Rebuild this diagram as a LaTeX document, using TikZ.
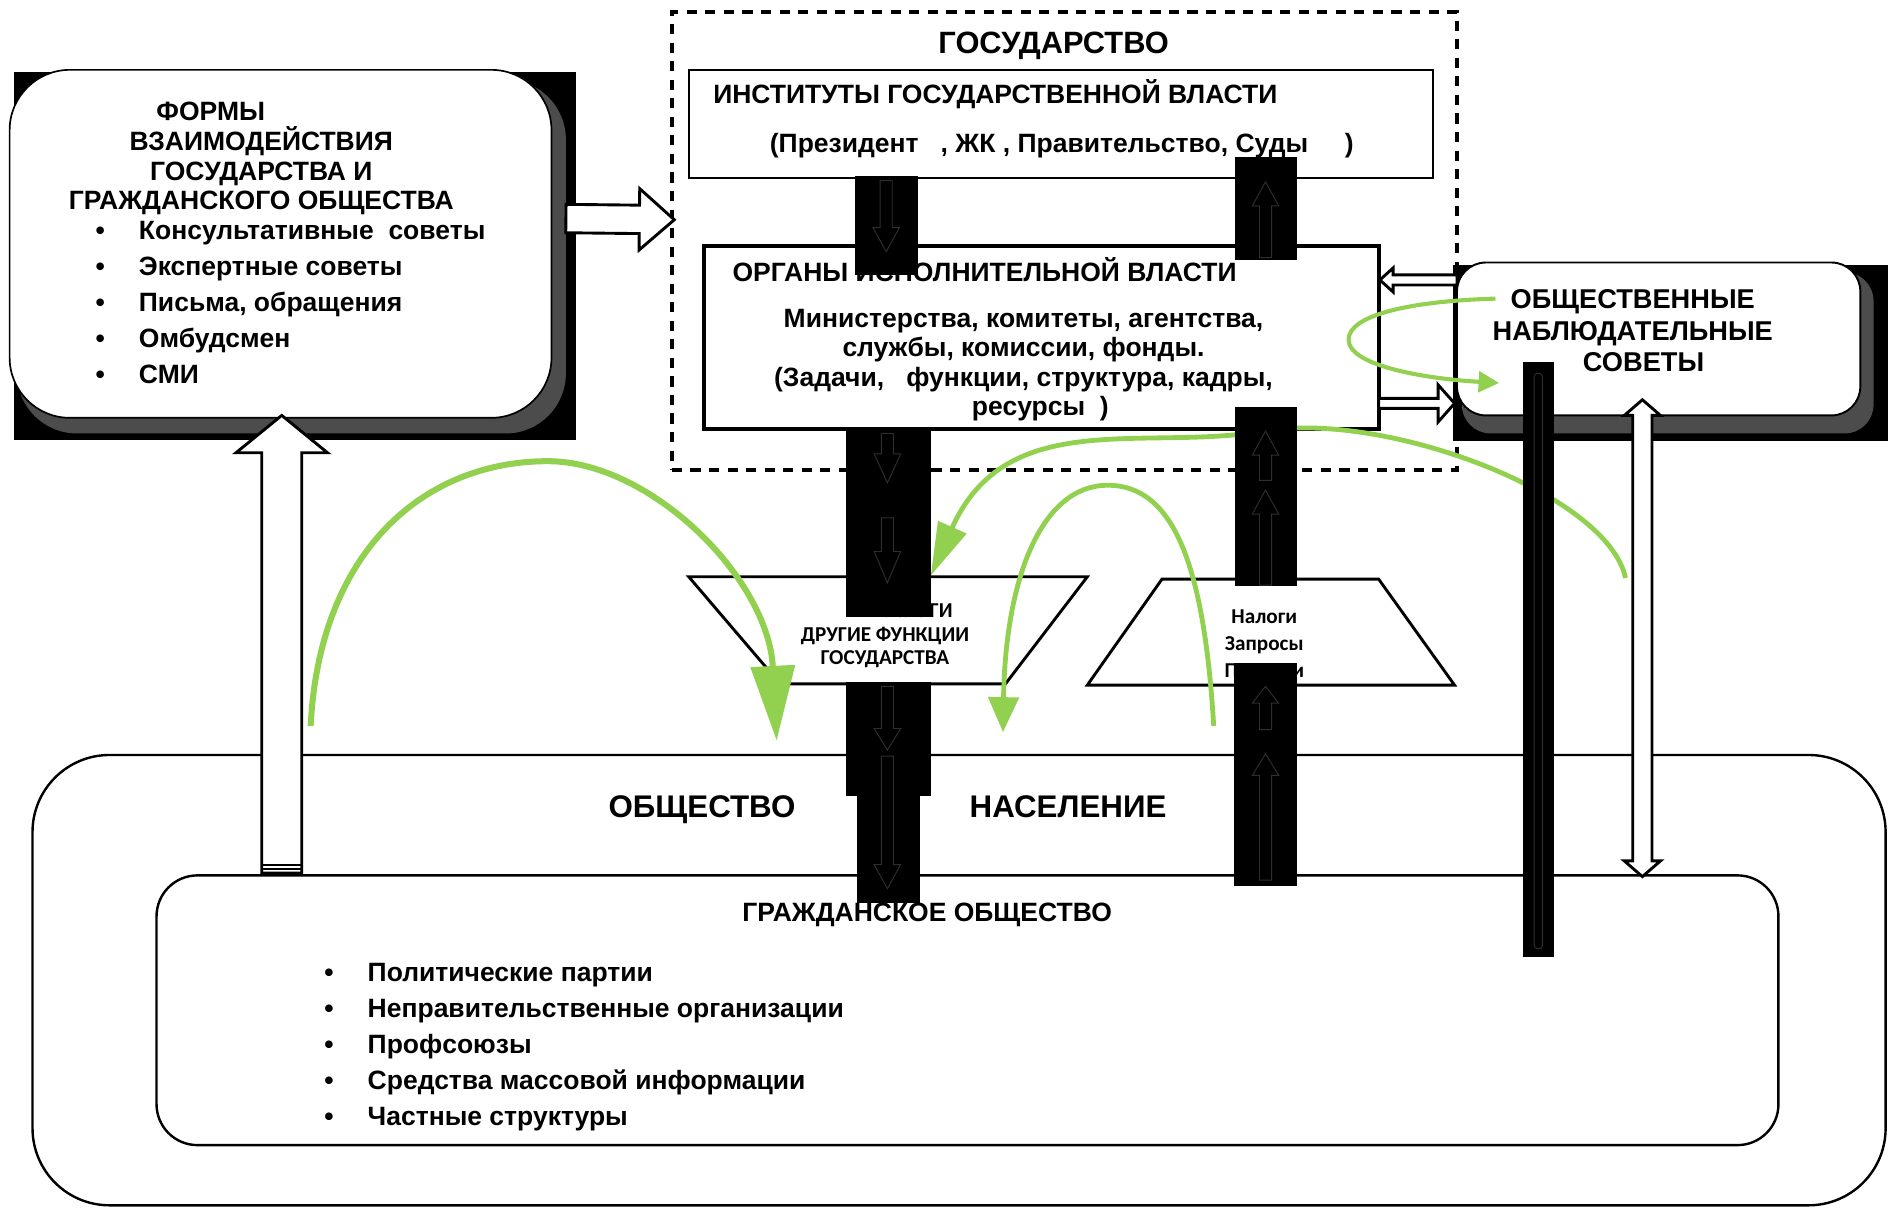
\documentclass[tikz,border=0pt]{standalone}
\usepackage{fontspec}
\setmainfont{Liberation Sans}
\newfontfamily\calibfont{Carlito}
\usetikzlibrary{calc,fit,arrows.meta}

\definecolor{leafgreen}{RGB}{146,208,80}
\newcommand*{\pkt}{\makebox[18pt][l]{\textbullet}}
\newcommand*{\fsz}[2]{\fontsize{#1}{#2}\selectfont\lineskiplimit=-20pt\relax}

% hollow block arrow: [style]{from}{to}{half shaft}{half head}{head length}
\newcommand{\blockarrow}[6][]{%
  \coordinate (ba) at ($(#3)!#6!(#2)$);
  \draw[hollow,#1] ($(#2)!#4!90:(#3)$) -- ($(ba)!#4!-90:(#2)$)
    -- ($(ba)!#5!-90:(#2)$) -- (#3) -- ($(ba)!#5!90:(#2)$)
    -- ($(ba)!#4!90:(#2)$) -- ($(#2)!#4!-90:(#3)$) -- cycle;
}
% same, with a head at both ends
\newcommand{\blockdarrow}[6][]{%
  \coordinate (bda) at ($(#2)!#6!(#3)$);
  \coordinate (bdb) at ($(#3)!#6!(#2)$);
  \draw[hollow,#1] (#2) -- ($(bda)!#5!90:(#3)$) -- ($(bda)!#4!90:(#3)$)
    -- ($(bdb)!#4!-90:(#2)$) -- ($(bdb)!#5!-90:(#2)$) -- (#3)
    -- ($(bdb)!#5!90:(#2)$) -- ($(bdb)!#4!90:(#2)$)
    -- ($(bda)!#4!-90:(#3)$) -- ($(bda)!#5!-90:(#3)$) -- cycle;
}

\begin{document}
\begin{tikzpicture}[
    x=0.5pt,y=-0.5pt,
    txt/.style={inner sep=0pt,font=\bfseries\fsz{11}{14.9}},
    bigtxt/.style={inner sep=0pt,font=\bfseries\fsz{12.8}{15}},
    smalltxt/.style={inner sep=0pt,align=center,font=\calibfont\bfseries\fsz{8.8}{9.7}},
    plainbox/.style={draw,fill=white,inner sep=0pt,line width=0.8pt},
    roundbox/.style={plainbox,rounded corners=#1},
    shadowbox/.style={fill=black!70,rounded corners=#1},
    trap/.style={draw,line width=1.2pt,line join=miter},
    hollow/.style={draw,fill=white,line width=1.2pt,line join=miter},
    faint/.style={draw=black!82,fill=none,line width=0.4pt},
    greenline/.style={draw=leafgreen,line width=#1},
  ]
  \useasboundingbox (0,0) rectangle (1568,1003);

  % society
  \node[roundbox=32pt,line width=1pt,fit={(27,627) (1566,1001)}] (societybox) {};
  \node[roundbox=17pt,line width=1pt,fit={(130,727) (1477,951)}] (civilbox) {};
  \node[bigtxt,font=\bfseries\fsz{13}{15},anchor=base] (society) at (583,679) {ОБЩЕСТВО};
  \node[bigtxt,font=\bfseries\fsz{13}{15},anchor=base] (population) at (887,679) {НАСЕЛЕНИЕ};
  \node[txt,anchor=base] (civiltitle) at (770,765) {ГРАЖДАНСКОЕ ОБЩЕСТВО};
  \node[txt,align=left,anchor=north west] (civillist) at (269,794) {%
    \strut\pkt Политические партии\\
    \pkt Неправительственные организации\\
    \pkt Профсоюзы\\
    \pkt Средства массовой информации\\
    \pkt Частные структуры};

  % forms of interaction
  \fill (12,60) rectangle (478,365);
  \fill[shadowbox=25pt] (14,66) rectangle (470,360);
  \node[roundbox=25pt,line width=0.7pt,fit={(8,58) (458,347)}] (forms) {};
  \node[txt,align=center,anchor=north,font=\bfseries\fsz{11}{12.3}] (formstitle) at (217,82.8) {%
    \strut ФОРМЫ\hspace*{42pt}\\ВЗАИМОДЕЙСТВИЯ\\ГОСУДАРСТВА И\\ГРАЖДАНСКОГО ОБЩЕСТВА};
  \node[txt,align=left,anchor=north west] (formslist) at (79,178) {%
    \strut\pkt Консультативные\ \ советы\\
    \pkt Экспертные советы\\
    \pkt Письма, обращения\\
    \pkt Омбудсмен\\
    \pkt СМИ};

  % state
  \node[draw,dashed,line width=1.6pt,dash pattern=on 4.2pt off 3.5pt,inner sep=0pt,
    fit={(558,10) (1210,390)}] (state) {};
  \node[bigtxt,anchor=base] (statetitle) at (875,44.5) {ГОСУДАРСТВО};
  \node[plainbox,fit={(572,58) (1190,148)}] (institutes) {};
  \node[txt,anchor=base west] (insttitle) at (592,86) {ИНСТИТУТЫ ГОСУДАРСТВЕННОЙ ВЛАСТИ};
  \node[txt,anchor=base west] (instlist) at (639,127) {(Президент\ \ \ , ЖК , Правительство, Суды\ \ \ \ \ )};
  \node[plainbox,line width=1.6pt,fit={(585,204) (1145,356)}] (executive) {};
  \node[txt,anchor=base west] (exectitle) at (608,234) {ОРГАНЫ ИСПОЛНИТЕЛЬНОЙ ВЛАСТИ};
  \node[txt,align=center,anchor=north,font=\bfseries\fsz{11}{12.25}] (execlist) at (850,254.2) {%
    \strut Министерства, комитеты, агентства,\\
    службы, комиссии, фонды.\hspace*{14pt}\\
    (Задачи,\ \ \ функции, структура, кадры,\\
    \hspace*{14pt}ресурсы\ \ )};

  % public councils
  \fill (1207,220) rectangle (1568,366);
  \fill[shadowbox=12pt] (1214,226) rectangle (1556,360);
  \node[roundbox=12pt,line width=0.8pt,fit={(1210,218) (1545,345)}] (councils) {};
  \node[txt,align=center,anchor=north,font=\bfseries\fsz{11.3}{13}] (councilstitle) at (1356,237.8) {%
    \strut ОБЩЕСТВЕННЫЕ\\НАБЛЮДАТЕЛЬНЫЕ\\\hspace*{9pt}СОВЕТЫ};

  % services and taxes
  \draw[trap] (572,479) -- (903,479) -- (835,568) -- (648,568) -- cycle;
  \node[smalltxt,anchor=north] (services) at (735,499) {\strut\hspace*{27pt}УСЛУГИ\\ДРУГИЕ ФУНКЦИИ\\ГОСУДАРСТВА};
  \draw[trap] (965,481) -- (1145,481) -- (1208,569) -- (903,569) -- cycle;
  \node[smalltxt,anchor=north,font=\calibfont\bfseries\fsz{8.8}{11.25}] (taxes) at (1050,501.3) {\strut Налоги\\Запросы\\Петиции};

  % green feedback arrows
  \coordinate (g1s) at (258,603);
  \coordinate (g1e) at (645,615);
  \coordinate (g2s) at (1350,480);
  \coordinate (g2e) at (773,478);
  \coordinate (g3s) at (1008,603);
  \coordinate (g3e) at (833,608);
  \coordinate (g4s) at (1242,248);
  \coordinate (g4e) at (1245,318);
  \draw[greenline=2.5pt,-{Triangle[length=31pt,width=18pt]}]
    (g1s) .. controls (265,460) and (350,383) .. (455,383)
    .. controls (540,383) and (638,480) .. (g1e);
  \draw[greenline=2pt,-{Triangle[length=22pt,width=12.5pt]}]
    (g2s) .. controls (1335,410) and (1150,341) .. (1050,358)
    .. controls (950,375) and (836,337) .. (g2e);
  \draw[greenline=2pt,-{Triangle[length=14.5pt,width=12.5pt]}]
    (g3s) .. controls (1000,470) and (975,403) .. (920,403)
    .. controls (865,403) and (835,480) .. (g3e);
  \draw[greenline=1.7pt,-{Triangle[length=8.5pt,width=8.5pt]}]
    (g4s) .. controls (1170,250) and (1120,262) .. (1120,282)
    .. controls (1120,305) and (1190,315) .. (g4e);

  % black arrows between state and population
  \fill (710,146) rectangle (762,228);
  \fill (1026,130) rectangle (1077,216);
  \fill (703,356) rectangle (773,512);
  \fill (1026,338) rectangle (1077,487);
  \fill (703,566) rectangle (773,661);
  \fill (712,661) rectangle (764,750);
  \fill (1025,551) rectangle (1077,736);
  \fill (1265,301) rectangle (1291,795);
  \coordinate (fa1) at (736,150);   \coordinate (fa2) at (736,209);
  \coordinate (fb1) at (1051,214);  \coordinate (fb2) at (1051,151);
  \coordinate (fc1) at (737,360);   \coordinate (fc2) at (737,401);
  \coordinate (fc3) at (737,430);   \coordinate (fc4) at (737,484);
  \coordinate (fd1) at (1051,399);  \coordinate (fd2) at (1051,358);
  \coordinate (fd3) at (1051,486);  \coordinate (fd4) at (1051,407);
  \coordinate (fe1) at (737,570);   \coordinate (fe2) at (737,623);
  \coordinate (fe3) at (737,628);   \coordinate (fe4) at (737,738);
  \coordinate (ff1) at (1051,606);  \coordinate (ff2) at (1051,570);
  \coordinate (ff3) at (1051,731);  \coordinate (ff4) at (1051,626);
  \blockarrow[faint]{fa1}{fa2}{2.5pt}{5.5pt}{10pt}
  \blockarrow[faint]{fb1}{fb2}{2.5pt}{5.5pt}{10pt}
  \blockarrow[faint]{fc1}{fc2}{2.5pt}{5.5pt}{12pt}
  \blockarrow[faint]{fc3}{fc4}{2.5pt}{5.5pt}{13pt}
  \blockarrow[faint]{fd1}{fd2}{2.5pt}{5.5pt}{10pt}
  \blockarrow[faint]{fd3}{fd4}{2.5pt}{5.5pt}{10pt}
  \blockarrow[faint]{fe1}{fe2}{2.5pt}{5.5pt}{9pt}
  \blockarrow[faint]{fe3}{fe4}{2.5pt}{5.5pt}{10pt}
  \blockarrow[faint]{ff1}{ff2}{2.5pt}{5.5pt}{7pt}
  \blockarrow[faint]{ff3}{ff4}{2.5pt}{5.5pt}{9pt}
  \draw[faint,rounded corners=1.5pt] (1274,310) rectangle (1281,788);

  % hollow arrows
  \coordinate (formsout) at (470,181.5);
  \coordinate (stateedge) at (560,182.5);
  \coordinate (civiltop) at (234,725);
  \coordinate (formsbottom) at (234,345);
  \coordinate (councilsleft) at (1210,232.5);
  \coordinate (execright) at (1146,232.5);
  \coordinate (execout) at (1145,335);
  \coordinate (councilsin) at (1208,335);
  \coordinate (councilsbottom) at (1364,332);
  \coordinate (civilright) at (1364,728);
  \blockarrow{formsout}{stateedge}{5.9pt}{12.75pt}{14.5pt}
  \blockarrow{civiltop}{formsbottom}{8.3pt}{19pt}{15.5pt}
  \draw[line width=0.8pt] (218,718) -- (250,718) (218,722) -- (250,722);
  \blockarrow{councilsleft}{execright}{2.1pt}{5pt}{5.5pt}
  \blockarrow{execout}{councilsin}{2.1pt}{7.7pt}{6.8pt}
  \blockdarrow{councilsbottom}{civilright}{4pt}{7.5pt}{6.5pt}
\end{tikzpicture}
\end{document}
